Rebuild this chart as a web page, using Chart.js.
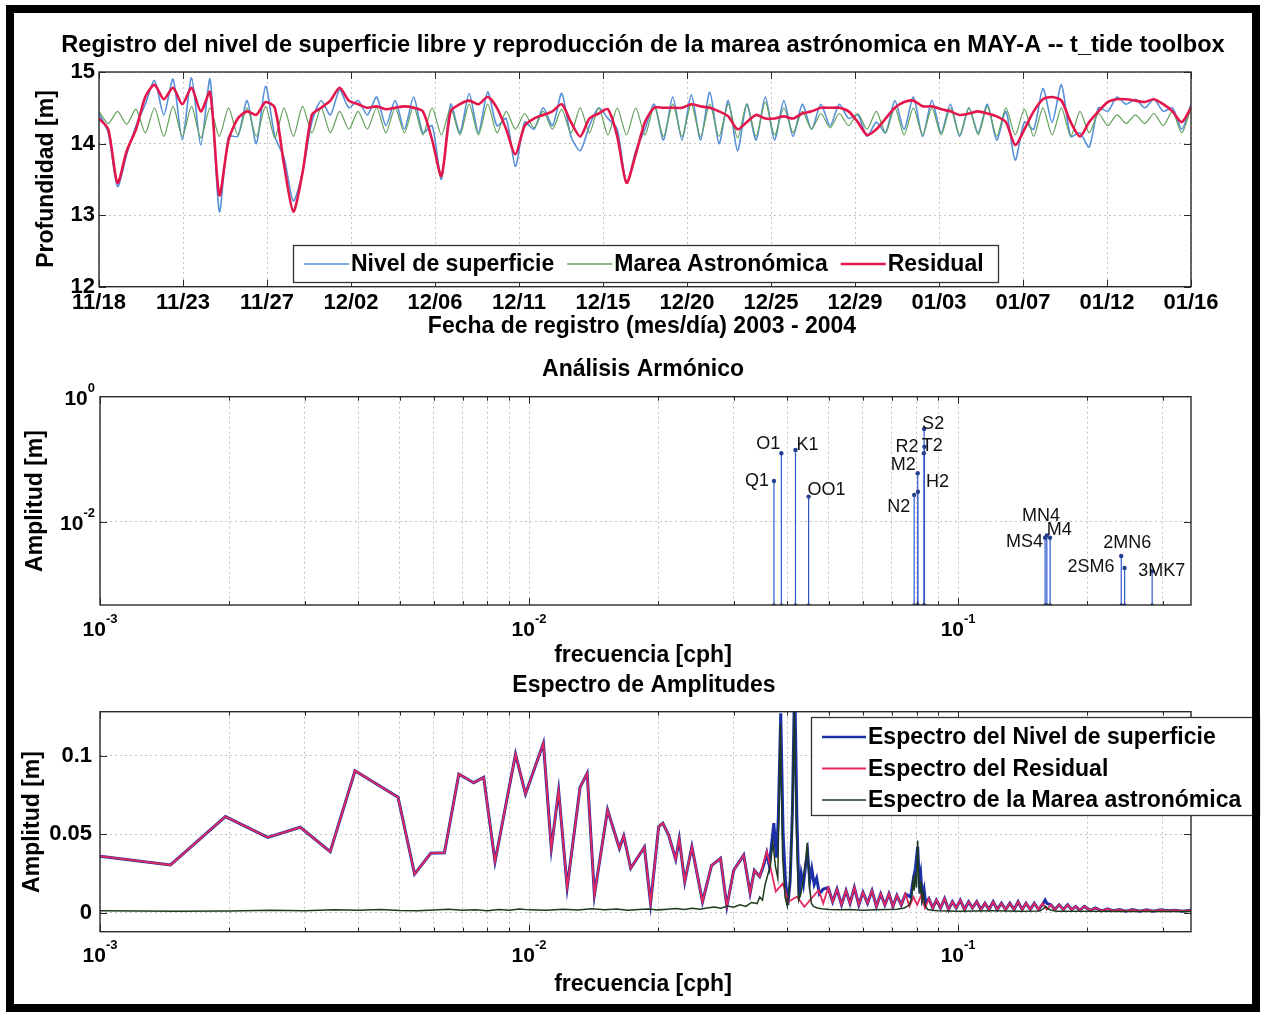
<!DOCTYPE html>
<html><head><meta charset="utf-8">
<script src="https://cdn.jsdelivr.net/npm/chart.js@4.4.1/dist/chart.umd.min.js"></script>
<style>
html,body{margin:0;padding:0;background:#fff;}
body{width:1264px;height:1012px;position:relative;overflow:hidden;}
canvas{position:absolute;left:0;}
#frame{position:absolute;left:6px;top:5px;width:1254px;height:1007px;border:8px solid #000;box-sizing:border-box;pointer-events:none;}
</style></head><body>
<canvas id="c1" width="1264" height="345" style="top:0px;width:1264px;height:345px"></canvas>
<canvas id="c2" width="1264" height="323" style="top:345px;width:1264px;height:323px"></canvas>
<canvas id="c3" width="1264" height="344" style="top:668px;width:1264px;height:344px"></canvas>
<div id="frame"></div>
<script>
// ================= DATA =================
// --- Panel 1: time series (samples every half day from 11/18) ---
const dateTickLabels = ['11/18','11/23','11/27','12/02','12/06','12/11','12/15','12/20','12/25','12/29','01/03','01/07','01/12','01/16'];
const recordDays = 59;
const sampleStepDays = 0.5;
const depthTicks = [12, 13, 14, 15];

const nivelSuperficie = [
 14.42,14.15,13.4,13.85,14.25,14.55,14.88,14.4,14.9,14.05,
 14.92,13.98,14.9,13.05,14.1,14.1,14.6,14.0,14.8,14.1,
 13.8,13.2,13.6,14.3,14.6,14.4,14.75,14.5,14.6,14.4,
 14.65,14.25,14.6,14.2,14.65,14.15,14.25,13.5,14.55,14.15,
 14.7,14.15,14.72,14.25,14.35,13.68,14.3,14.2,14.5,14.25,
 14.7,14.1,13.9,14.25,14.5,14.35,14.2,13.45,13.9,14.2,
 14.55,14.05,14.65,14.05,14.68,14.05,14.72,14.0,14.6,13.9,
 14.55,14.05,14.65,14.05,14.6,14.1,14.55,14.2,14.55,14.25,
 14.55,14.35,14.4,14.1,14.3,14.15,14.6,14.2,14.65,14.1,
 14.6,14.15,14.55,14.1,14.5,14.15,14.55,14.05,14.45,13.77,
 14.3,14.2,14.77,14.3,14.82,14.1,14.15,13.95,14.5,14.45,
 14.65,14.55,14.62,14.5,14.62,14.45,14.5,14.2,14.55
];
const mareaAstronomica = [
 14.45,14.28,14.45,14.27,14.48,14.15,14.5,14.1,14.52,14.1,
 14.52,14.08,14.5,14.1,14.5,14.12,14.5,14.1,14.52,14.08,
 14.5,14.1,14.52,14.15,14.5,14.15,14.45,14.2,14.45,14.2,
 14.5,14.15,14.5,14.15,14.52,14.12,14.5,14.12,14.5,14.12,
 14.55,14.12,14.55,14.15,14.45,14.2,14.42,14.22,14.45,14.2,
 14.48,14.15,14.5,14.15,14.5,14.12,14.5,14.12,14.5,14.12,
 14.52,14.1,14.55,14.1,14.55,14.1,14.55,14.1,14.55,14.08,
 14.55,14.1,14.58,14.12,14.5,14.15,14.45,14.2,14.42,14.22,
 14.42,14.25,14.42,14.2,14.45,14.15,14.5,14.12,14.5,14.12,
 14.5,14.12,14.5,14.12,14.5,14.12,14.52,14.1,14.5,14.12,
 14.48,14.1,14.5,14.12,14.5,14.1,14.45,14.15,14.42,14.25,
 14.4,14.28,14.4,14.28,14.42,14.25,14.45,14.15,14.5
];
const residual = [
 14.35,14.2,13.45,13.9,14.2,14.65,14.82,14.62,14.78,14.55,
 14.78,14.45,14.72,13.28,14.05,14.35,14.45,14.4,14.58,14.5,
 13.7,13.05,13.6,14.4,14.5,14.6,14.78,14.6,14.55,14.5,
 14.52,14.48,14.5,14.52,14.5,14.45,14.05,13.55,14.45,14.55,
 14.6,14.55,14.65,14.5,14.2,13.85,14.25,14.35,14.4,14.45,
 14.55,14.3,14.1,14.35,14.42,14.48,14.1,13.45,13.85,14.3,
 14.5,14.5,14.5,14.5,14.55,14.52,14.5,14.45,14.38,14.2,
 14.3,14.4,14.35,14.35,14.38,14.35,14.42,14.45,14.5,14.5,
 14.5,14.45,14.3,14.12,14.2,14.35,14.5,14.58,14.6,14.52,
 14.52,14.48,14.45,14.4,14.42,14.45,14.42,14.38,14.3,13.98,
 14.2,14.45,14.62,14.65,14.6,14.3,14.1,14.3,14.45,14.58,
 14.62,14.62,14.6,14.58,14.62,14.55,14.45,14.3,14.5
];

// --- Panel 2: harmonic analysis (t_tide constituents) ---
const constituentNames = ['Q1','O1','K1','OO1','N2','M2','H2','T2','S2','R2','MN4','M4','MS4','2MN6','2SM6','3MK7'];
const constituentFreq  = [0.03722,0.03873,0.04178,0.04483,0.07900,0.08051,0.08062,0.08322,0.08333,0.08345,0.15951,0.16102,0.16384,0.24002,0.24436,0.28331];
const constituentAmp   = [0.0448,0.124,0.140,0.0251,0.0267,0.0594,0.030,0.124,0.304,0.158,0.0055,0.0060,0.0055,0.0028,0.0018,0.0016];

// --- Panel 3: amplitude spectra ---
const residualSpecFreq = [
 0.001,0.00146,0.00196,0.00246,0.00293,0.00344,0.00393,0.00495,0.00541,0.0059,
 0.00635,0.00686,0.00743,0.00784,0.00833,0.0093,0.00981,0.0108,0.01127,0.01172,
 0.01227,0.01315,0.01366,0.0142,0.01524,0.01624,0.01662,0.01726,0.01857,0.0192,
 0.02005,0.0205,0.02115,0.02197,0.02239,0.02306,0.02396,0.02537,0.02662,0.02794,
 0.02891,0.02999,0.03164,0.03275,0.03351,0.03447,0.03583,0.03653,0.03758,0.03906,
 0.0402,0.04214,0.04382,0.04732,
 0.0485,0.0498,0.051,0.0522,0.0535,0.0548,0.056,0.0573,0.0587,0.06,
 0.0615,0.063,0.0645,0.066,0.0675,0.069,0.0705,0.072,0.0737,0.0754,
 0.077,0.0787,0.0803,0.082,0.0837,0.0855,0.0873,0.089,0.091,0.093,
 0.095,0.097,0.099,0.1012,0.1035,0.1058,0.108,0.1105,0.113,0.1155,
 0.118,0.1207,0.1234,0.1262,0.129,0.132,0.135,0.138,0.141,0.144,
 0.1473,0.1505,0.154,0.1573,0.161,0.1645,0.168,0.172,0.176,0.18,
 0.184,0.188,0.192,0.197,0.203,0.209,0.216,0.223,0.23,0.238,
 0.246,0.255,0.265,0.275,0.285,0.296,0.308,0.32,0.333,0.349
];
const residualSpecAmp = [
 0.036,0.0304,0.0612,0.048,0.0544,0.0389,0.0904,0.0735,0.0246,0.0378,
 0.0382,0.0883,0.0828,0.0862,0.0325,0.1009,0.0756,0.1079,0.041,0.0777,
 0.0162,0.0799,0.0888,0.0113,0.0654,0.041,0.0489,0.0283,0.0417,0.006,
 0.0548,0.057,0.0495,0.034,0.047,0.0197,0.042,0.007,0.030,0.0346,
 0.004,0.027,0.0367,0.0125,0.027,0.023,0.039,0.029,0.0134,0.0187,
 0.007,0.0102,0.0038,0.0145,
 0.006,0.016,0.007,0.015,0.005,0.014,0.006,0.016,0.005,0.013,
 0.006,0.014,0.004,0.012,0.005,0.012,0.004,0.011,0.005,0.012,
 0.004,0.010,0.005,0.011,0.003,0.009,0.003,0.008,0.003,0.009,
 0.002,0.007,0.003,0.008,0.002,0.007,0.003,0.007,0.002,0.006,
 0.002,0.007,0.002,0.006,0.002,0.006,0.002,0.007,0.002,0.006,
 0.002,0.006,0.002,0.006,0.002,0.005,0.002,0.005,0.002,0.005,
 0.002,0.004,0.0015,0.004,0.0015,0.003,0.0012,0.0025,0.0012,0.002,
 0.001,0.002,0.001,0.0018,0.001,0.0018,0.0012,0.0016,0.001,0.0015
];
const nivelSpecFreq = [
 0.001,0.00146,0.00196,0.00246,0.00293,0.00344,0.00393,0.00495,0.00541,0.0059,
 0.00635,0.00686,0.00743,0.00784,0.00833,0.0093,0.00981,0.0108,0.01127,0.01172,
 0.01227,0.01315,0.01366,0.0142,0.01524,0.01624,0.01662,0.01726,0.01857,0.0192,
 0.02005,0.0205,0.02115,0.02197,0.02239,0.02306,0.02396,0.02537,0.02662,0.02794,
 0.02891,0.02999,0.03164,0.03275,0.03351,0.03447,
 0.0352,0.0358,0.0363,0.0368,0.0372,0.0377,0.0381,0.0386,0.0391,0.0396,
 0.0401,0.0406,0.0411,0.0416,0.0421,0.0426,0.0431,0.0436,0.0441,0.0446,
 0.0451,0.0456,0.0462,0.0468,0.0475,0.0485,0.0498,0.051,0.0522,0.0535,
 0.0548,0.056,0.0573,0.0587,0.06,0.0615,0.063,0.0645,0.066,0.0675,
 0.069,0.0705,0.072,0.0737,0.0754,0.0775,0.0785,0.0795,0.0805,0.0812,
 0.0818,0.0825,0.0833,0.084,0.0855,0.0873,0.089,0.091,0.093,0.095,
 0.097,0.099,0.1012,0.1035,0.1058,0.108,0.1105,0.113,0.1155,0.118,
 0.1207,0.1234,0.1262,0.129,0.132,0.135,0.138,0.141,0.144,0.1473,
 0.1505,0.154,0.158,0.1595,0.161,0.1645,0.168,0.172,0.176,0.18,
 0.184,0.188,0.192,0.197,0.203,0.209,0.216,0.223,0.23,0.238,
 0.246,0.255,0.265,0.275,0.285,0.296,0.308,0.32,0.333,0.349
];
const nivelSpecAmp = [
 0.036,0.0304,0.0612,0.048,0.0544,0.0389,0.0904,0.0735,0.0246,0.0378,
 0.0382,0.0883,0.0828,0.0862,0.0325,0.1009,0.0756,0.1079,0.041,0.0777,
 0.0162,0.0799,0.0888,0.0113,0.0654,0.041,0.0489,0.0283,0.0417,0.006,
 0.0548,0.057,0.0495,0.034,0.047,0.0197,0.042,0.007,0.030,0.0346,
 0.004,0.027,0.0367,0.0125,0.027,0.023,
 0.030,0.038,0.030,0.045,0.057,0.035,0.060,0.127,0.050,0.020,
 0.005,0.020,0.065,0.150,0.060,0.010,0.025,0.018,0.030,0.038,
 0.020,0.028,0.018,0.022,0.012,0.015,0.016,0.007,0.015,0.005,
 0.014,0.006,0.016,0.005,0.013,0.006,0.014,0.004,0.012,0.005,
 0.012,0.004,0.011,0.005,0.012,0.010,0.020,0.028,0.042,0.020,
 0.025,0.010,0.015,0.006,0.009,0.003,0.008,0.003,0.009,0.002,
 0.007,0.003,0.008,0.002,0.007,0.003,0.007,0.002,0.006,0.002,
 0.007,0.002,0.006,0.002,0.006,0.002,0.007,0.002,0.006,0.002,
 0.006,0.002,0.006,0.008,0.006,0.005,0.002,0.005,0.002,0.005,
 0.002,0.004,0.0015,0.004,0.0015,0.003,0.0012,0.0025,0.0012,0.002,
 0.001,0.002,0.001,0.0018,0.001,0.0018,0.0012,0.0016,0.001,0.0015
];
const mareaSpecFreq = [
 0.001,0.0015,0.002,0.0025,0.003,0.0035,0.004,0.0045,0.005,0.0055,
 0.006,0.0065,0.007,0.0075,0.008,0.0085,0.009,0.0095,0.01,0.011,
 0.012,0.013,0.014,0.015,0.016,0.017,0.018,0.019,0.02,0.021,
 0.022,0.023,0.024,0.025,0.026,0.027,0.028,0.029,0.03,0.031,
 0.032,0.033,0.034,0.0345,0.035,0.0355,0.036,0.0365,0.037,0.0375,
 0.038,0.0385,0.039,0.0395,0.04,0.0405,0.041,0.0415,0.042,0.0425,
 0.043,0.0435,0.044,0.0445,0.045,0.0455,0.046,0.047,0.048,0.05,
 0.053,0.056,0.06,0.064,0.068,0.072,0.075,0.077,0.078,0.0785,
 0.079,0.0795,0.08,0.0805,0.081,0.0815,0.082,0.0825,0.083,0.0835,
 0.084,0.085,0.087,0.09,0.1,0.12,0.14,0.155,0.158,0.16,
 0.162,0.165,0.17,0.2,0.25,0.3,0.349
];
const mareaSpecAmp = [
 0.0012,0.0010,0.0011,0.0015,0.0013,0.0018,0.0016,0.0020,0.0014,0.0012,
 0.0017,0.0022,0.0015,0.0019,0.0013,0.0021,0.0016,0.0024,0.0018,0.0015,
 0.0022,0.0017,0.0025,0.0019,0.0023,0.0016,0.0021,0.0024,0.0018,0.0022,
 0.0026,0.0020,0.0028,0.0022,0.0030,0.0036,0.0028,0.0042,0.0035,0.0050,
 0.0040,0.0065,0.0058,0.0100,0.0080,0.0180,0.0240,0.0300,0.0450,0.0300,
 0.0220,0.1200,0.0350,0.0100,0.0040,0.0180,0.0500,0.1280,0.0500,0.0080,
 0.0120,0.0200,0.0300,0.0445,0.0180,0.0060,0.0040,0.0030,0.0025,0.0020,
 0.0018,0.0020,0.0015,0.0018,0.0020,0.0022,0.0030,0.0050,0.0100,0.0200,
 0.0140,0.0250,0.0160,0.0460,0.0200,0.0120,0.0200,0.0080,0.0120,0.0060,
 0.0040,0.0020,0.0015,0.0012,0.0010,0.0012,0.0010,0.0011,0.0025,0.0040,
 0.0025,0.0015,0.0010,0.0009,0.0008,0.0008,0.0008
];

// Tick labels for log axes (10^n)
const freqTickValues = [0.001, 0.01, 0.1];
const freqTickExponents = ['-3', '-2', '-1'];
const ampLogTickValues = [1, 0.01];
const ampLogTickExponents = ['0', '-2'];
const ampLinTickValues = [0, 0.05, 0.1];

// ================= STYLE / LAYOUT =================
const FONT = "'Liberation Sans', Arial, Helvetica, sans-serif";
const B = s => 'bold ' + s + 'px ' + FONT;
const GRID = '#c2c2c2';
const FREQ_MIN = 0.001, FREQ_MAX = 0.349;
const AMP_LOG_MIN = 4.6e-4;
const logGrid = [1,2,3,4,5,6,7,8,9].flatMap(m => [1e-3,1e-2,1e-1].map(d => m*d)).filter(v => v <= FREQ_MAX + 1e-9).sort((a,b)=>a-b);

const stemLabelStyle = {
  Q1:{dx:-5,dy:0,align:'right'}, O1:{dx:-1,dy:-9,align:'right'}, K1:{dx:1,dy:-5,align:'left'},
  OO1:{dx:-1,dy:-7,align:'left'}, N2:{dx:-4,dy:12,align:'right'}, M2:{dx:-2,dy:-8,align:'right'},
  H2:{dx:8,dy:-10,align:'left'}, T2:{dx:-2,dy:-7,align:'left'}, S2:{dx:-2,dy:-5,align:'left'},
  R2:{dx:-6,dy:0,align:'right'}, MN4:{dx:-4,dy:-22,align:'center'}, M4:{dx:0,dy:-5,align:'left'},
  MS4:{dx:-7,dy:4,align:'right'}, '2MN6':{dx:6,dy:-13,align:'center'}, '2SM6':{dx:-10,dy:-1,align:'right'},
  '3MK7':{dx:-14,dy:0,align:'left'}
};

const decorConfig = {
  c1: { offY: 0,
    title: {text:'Registro del nivel de superficie libre y reproducción de la marea astrónomica en MAY-A -- t_tide toolbox', x:643, y:45, size:23.6},
    xTitle: {text:'Fecha de registro (mes/día) 2003 - 2004', x:642, y:327},
    yTitle: {text:'Profundidad [m]', x:47, y:179},
    legend: {x:293, y:245, w:705, h:37, padX:11, firstY:19, lineLen:45, gap:13, horizontal:true},
    inTicksX: 'grid', inTicksY: depthTicks
  },
  c2: { offY: 345,
    title: {text:'Análisis Armónico', x:643, y:370, size:23},
    xTitle: {text:'frecuencia [cph]', x:643, y:656},
    yTitle: {text:'Amplitud [m]', x:36, y:501},
    powX: {values: freqTickValues, exps: freqTickExponents, y: 630},
    powY: {values: ampLogTickValues, exps: ampLogTickExponents, right: 95},
    stems: true, inTicksX: 'grid', inTicksY: [0.01]
  },
  c3: { offY: 668,
    title: {text:'Espectro de Amplitudes', x:644, y:686, size:23},
    xTitle: {text:'frecuencia [cph]', x:643, y:985},
    yTitle: {text:'Amplitud [m]', x:33, y:822},
    powX: {values: freqTickValues, exps: freqTickExponents, y: 956},
    legend: {x:811, y:717, w:448, h:98, padX:11, firstY:20, lineLen:44, rowH:31.5, horizontal:false},
    inTicksX: 'grid', inTicksY: ampLinTickValues
  }
};

function drawPow(ctx, x, y, exp, mode) {
  ctx.font = B(21); const wb = ctx.measureText('10').width;
  ctx.font = B(13); const we = ctx.measureText(exp).width;
  const total = wb + we;
  const x0 = mode === 'right' ? x - total : x - total/2;
  ctx.textAlign = 'left'; ctx.textBaseline = 'middle'; ctx.fillStyle = '#000';
  ctx.font = B(21); ctx.fillText('10', x0, y);
  ctx.font = B(13); ctx.fillText(exp, x0 + wb, y - 11);
}

const decorPlugin = {
  id: 'decor',
  afterDatasetsDraw(chart) {
    const cfg = decorConfig[chart.canvas.id]; if (!cfg) return;
    const {ctx, chartArea: a} = chart;
    ctx.save();
    ctx.strokeStyle = '#2a2a2a'; ctx.lineWidth = 1;
    const sx = chart.scales.x, sy = chart.scales.y;
    const xt = cfg.inTicksX === 'grid' ? sx.ticks.map(t => t.value) : [];
    xt.forEach(v => {
      const px = Math.round(sx.getPixelForValue(v)) + 0.5;
      const len = (cfg.powX && !freqTickValues.some(f => Math.abs(f - v) < 1e-12)) ? 4 : 7;
      ctx.beginPath(); ctx.moveTo(px, a.bottom); ctx.lineTo(px, a.bottom - len);
      ctx.moveTo(px, a.top); ctx.lineTo(px, a.top + len); ctx.stroke();
    });
    (cfg.inTicksY || []).forEach(v => {
      const py = Math.round(sy.getPixelForValue(v)) + 0.5;
      ctx.beginPath(); ctx.moveTo(a.left, py); ctx.lineTo(a.left + 7, py);
      ctx.moveTo(a.right, py); ctx.lineTo(a.right - 7, py); ctx.stroke();
    });
    ctx.lineWidth = 1.4; ctx.strokeStyle = '#2a2a2a';
    ctx.strokeRect(a.left, a.top, a.right - a.left, a.bottom - a.top);
    ctx.restore();
  },
  afterDraw(chart) {
    const cfg = decorConfig[chart.canvas.id]; if (!cfg) return;
    const {ctx} = chart; const o = cfg.offY;
    ctx.save();
    ctx.fillStyle = '#000'; ctx.textAlign = 'center'; ctx.textBaseline = 'middle';
    ctx.font = B(cfg.title.size);
    ctx.fillText(cfg.title.text, cfg.title.x, cfg.title.y - o);
    ctx.font = B(23);
    ctx.fillText(cfg.xTitle.text, cfg.xTitle.x, cfg.xTitle.y - o);
    ctx.save(); ctx.translate(cfg.yTitle.x, cfg.yTitle.y - o); ctx.rotate(-Math.PI/2);
    ctx.fillText(cfg.yTitle.text, 0, 0); ctx.restore();
    if (cfg.powX) {
      const sx = chart.scales.x;
      cfg.powX.values.forEach((v,i) => drawPow(ctx, sx.getPixelForValue(v), cfg.powX.y - o, cfg.powX.exps[i], 'center'));
    }
    if (cfg.powY) {
      const sy = chart.scales.y;
      cfg.powY.values.forEach((v,i) => drawPow(ctx, cfg.powY.right, sy.getPixelForValue(v) + 3, cfg.powY.exps[i], 'right'));
    }
    if (cfg.stems) {
      const sx = chart.scales.x, sy = chart.scales.y;
      ctx.font = '18px ' + FONT; ctx.fillStyle = '#111'; ctx.textBaseline = 'middle';
      constituentNames.forEach((n,i) => {
        const st = stemLabelStyle[n];
        const px = sx.getPixelForValue(constituentFreq[i]), py = sy.getPixelForValue(constituentAmp[i]);
        ctx.textAlign = st.align; ctx.fillText(n, px + st.dx, py + st.dy);
      });
    }
    if (cfg.legend) {
      const L = cfg.legend;
      ctx.fillStyle = '#fff'; ctx.fillRect(L.x, L.y - o, L.w, L.h);
      ctx.strokeStyle = '#333'; ctx.lineWidth = 1.3; ctx.strokeRect(L.x + 0.5, L.y - o + 0.5, L.w, L.h);
      ctx.font = B(23); ctx.textAlign = 'left'; ctx.textBaseline = 'middle';
      let cx = L.x + L.padX, cy = L.y - o + L.firstY;
      chart.data.datasets.forEach(ds => {
        ctx.strokeStyle = ds.borderColor; ctx.lineWidth = Math.max(1.6, Math.min(2.4, ds.borderWidth));
        ctx.beginPath(); ctx.moveTo(cx, cy); ctx.lineTo(cx + L.lineLen, cy); ctx.stroke();
        ctx.fillStyle = '#000'; ctx.fillText(ds.label, cx + L.lineLen + 2, cy + 1);
        if (L.horizontal) cx += L.lineLen + 2 + ctx.measureText(ds.label).width + L.gap;
        else cy += L.rowH;
      });
    }
    ctx.restore();
  }
};

const toXY = arr => arr.map((v,i) => ({x: i * sampleStepDays, y: v}));
const pairs = (fx, fy) => fx.map((f,i) => ({x: f, y: fy[i]}));
const tickFont = {family: FONT, size: 22, weight: 'bold'};

Chart.defaults.font.family = FONT;

// ---------- Chart 1 ----------
new Chart(document.getElementById('c1'), {
  type: 'line',
  data: { datasets: [
    {label:'Nivel de superficie', data: toXY(nivelSuperficie), borderColor:'#5590d8', borderWidth:1.6, order:3},
    {label:'Marea Astronómica', data: toXY(mareaAstronomica), borderColor:'#62a05a', borderWidth:1.2, order:2},
    {label:'Residual', data: toXY(residual), borderColor:'#e3174c', borderWidth:2.6, order:1}
  ]},
  options: {
    responsive:false, maintainAspectRatio:false, animation:false,
    layout:{padding:{left:0, right:73, top:72, bottom:0}},
    elements:{point:{radius:0}, line:{tension:0.25}},
    plugins:{legend:{display:false}, tooltip:{enabled:false}},
    scales:{
      x:{type:'linear', min:0, max:recordDays,
        afterBuildTicks: s => { s.ticks = dateTickLabels.map((_,i) => ({value: i*recordDays/(dateTickLabels.length-1)})); },
        afterFit: s => { s.height = 58.3; },
        ticks:{autoSkip:false, maxRotation:0, padding:3, color:'#000', font:tickFont, callback:(v,i) => dateTickLabels[i]},
        grid:{color:GRID, drawTicks:false}, border:{display:false, dash:[2,3]}},
      y:{type:'linear', min:12, max:15,
        afterBuildTicks: s => { s.ticks = depthTicks.map(v => ({value:v})); },
        afterFit: s => { s.width = 99; },
        ticks:{padding:4, color:'#000', font:tickFont},
        grid:{color:GRID, drawTicks:false}, border:{display:false, dash:[2,3]}}
    }
  },
  plugins:[decorPlugin]
});

// ---------- Chart 2 ----------
const stemPoints = constituentFreq.flatMap((f,i) => [{x:f, y:AMP_LOG_MIN}, {x:f, y:constituentAmp[i]}, {x:f, y:null}]);
new Chart(document.getElementById('c2'), {
  type: 'scatter',
  data: { datasets: [{
    label:'Análisis Armónico', data: stemPoints, showLine:true, spanGaps:false,
    borderColor:'#3057cc', borderWidth:1.2, backgroundColor:'#2a4fc0',
    pointRadius: c => c.dataIndex % 3 === 1 ? 2.2 : (c.dataIndex % 3 === 0 ? 1.8 : 0),
    pointBorderWidth:0, pointBackgroundColor:'#24408f'
  }]},
  options: {
    responsive:false, maintainAspectRatio:false, animation:false,
    layout:{padding:{left:0, right:73, top:51.7, bottom:0}},
    plugins:{legend:{display:false}, tooltip:{enabled:false}},
    scales:{
      x:{type:'logarithmic', min:FREQ_MIN, max:FREQ_MAX,
        afterBuildTicks: s => { s.ticks = logGrid.map(v => ({value:v})); },
        afterFit: s => { s.height = 63; },
        ticks:{display:false, autoSkip:false},
        grid:{color:GRID, drawTicks:false}, border:{display:false, dash:[2,3]}},
      y:{type:'logarithmic', min:AMP_LOG_MIN, max:1,
        afterBuildTicks: s => { s.ticks = ampLogTickValues.map(v => ({value:v})); },
        afterFit: s => { s.width = 100; },
        ticks:{display:false},
        grid:{color:GRID, drawTicks:false}, border:{display:false, dash:[2,3]}}
    }
  },
  plugins:[decorPlugin]
});

// ---------- Chart 3 ----------
new Chart(document.getElementById('c3'), {
  type: 'line',
  data: { datasets: [
    {label:'Espectro del Nivel de superficie', data: pairs(nivelSpecFreq, nivelSpecAmp), borderColor:'#1c2fa8', borderWidth:3, order:3},
    {label:'Espectro del Residual', data: pairs(residualSpecFreq, residualSpecAmp), borderColor:'#e6285c', borderWidth:1.8, order:2},
    {label:'Espectro de la Marea astronómica', data: pairs(mareaSpecFreq, mareaSpecAmp), borderColor:'#1e3a1e', borderWidth:1.5, order:1}
  ]},
  options: {
    responsive:false, maintainAspectRatio:false, animation:false,
    layout:{padding:{left:0, right:73, top:43.7, bottom:0}},
    elements:{point:{radius:0}, line:{tension:0}},
    plugins:{legend:{display:false}, tooltip:{enabled:false}},
    scales:{
      x:{type:'logarithmic', min:FREQ_MIN, max:FREQ_MAX,
        afterBuildTicks: s => { s.ticks = logGrid.map(v => ({value:v})); },
        afterFit: s => { s.height = 80.3; },
        ticks:{display:false, autoSkip:false},
        grid:{color:GRID, drawTicks:false}, border:{display:false, dash:[2,3]}},
      y:{type:'linear', min:-0.0121, max:0.128,
        afterBuildTicks: s => { s.ticks = ampLinTickValues.map(v => ({value:v})); },
        afterFit: s => { s.width = 100; },
        ticks:{padding:8, color:'#000', font:tickFont, callback: v => String(v)},
        grid:{color:GRID, drawTicks:false}, border:{display:false, dash:[2,3]}}
    }
  },
  plugins:[decorPlugin]
});
</script>
</body></html>
